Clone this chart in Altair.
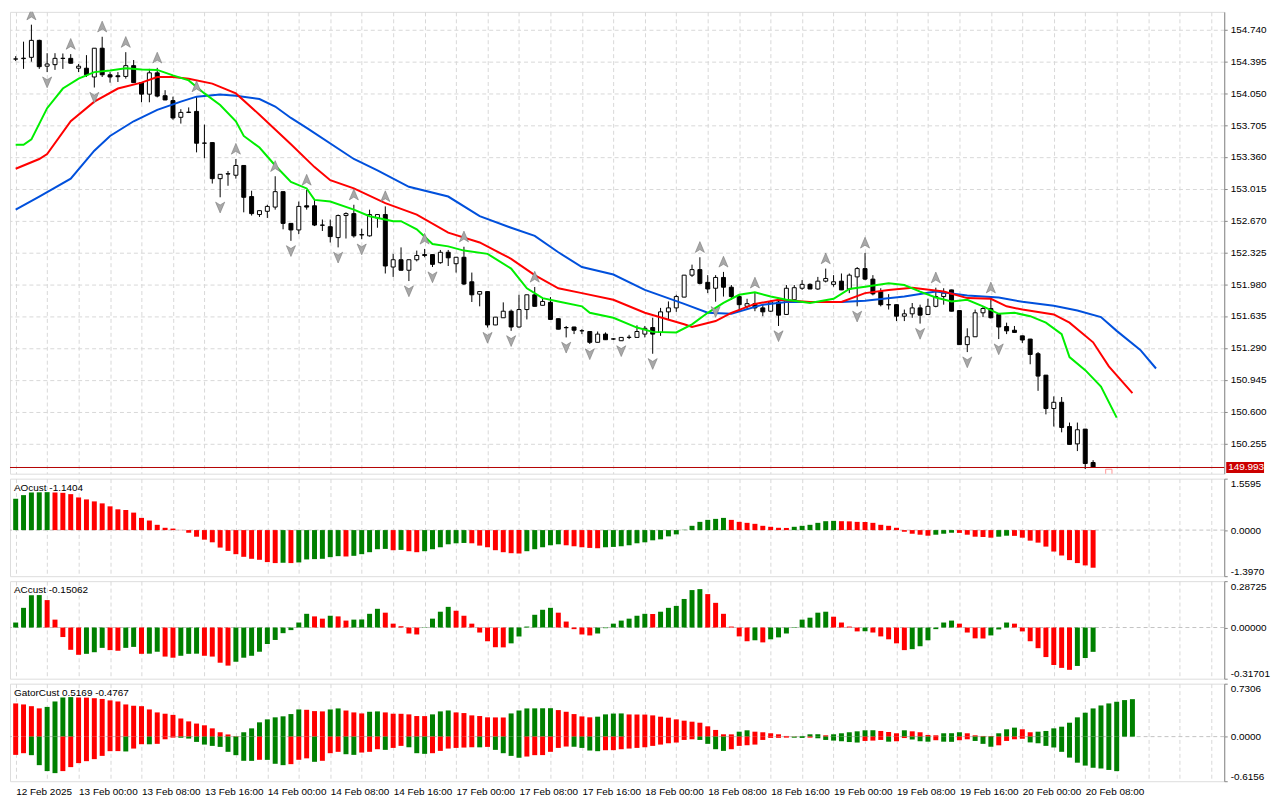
import altair as alt
import pandas as pd

W = 1220
H_MAIN = 464
H_IND = 98

# ---------------- candles (H1, bar 0 = 12 Feb 16:00) ----------------
opens = [154.420,154.425,154.439,154.623,154.343,154.360,154.427,154.428,154.321,154.321,
         154.226,154.538,154.250,154.239,154.232,154.349,154.165,154.040,154.271,154.023,
         153.970,153.789,153.845,153.853,153.508,153.515,153.124,153.174,153.161,153.267,
         152.930,152.735,152.770,152.816,152.983,152.639,152.568,152.830,152.830,152.621,
         152.603,152.485,152.724,152.745,152.517,152.504,152.698,152.735,152.166,152.245,
         152.131,152.245,152.301,152.301,152.213,152.326,152.202,152.272,152.006,151.872,
         151.900,151.538,151.616,151.687,151.516,151.705,151.865,151.751,151.783,151.606,
         151.510,151.516,151.474,151.467,151.350,151.439,151.385,151.367,151.403,151.403,
         151.439,151.510,151.457,151.680,151.723,151.840,152.078,152.138,152.000,151.936,
         152.053,151.947,151.846,151.740,151.769,151.723,151.687,151.787,151.652,151.811,
         151.936,151.978,151.928,152.013,151.978,152.013,151.928,152.059,152.149,152.035,
         151.900,151.758,151.758,151.633,151.659,151.723,151.652,151.740,151.846,151.918,
         151.694,151.325,151.410,151.670,151.716,151.652,151.521,151.481,151.420,151.385,
         151.226,150.994,150.632,150.700,150.437,150.249,150.409,150.047]
highs = [154.452,154.609,154.793,154.630,154.484,154.484,154.481,154.474,154.367,154.463,
         154.540,154.662,154.279,154.279,154.495,154.410,154.167,154.314,154.325,154.083,
         154.013,153.877,153.896,154.013,153.710,153.517,153.173,153.206,153.337,153.269,
         152.993,152.779,152.841,153.150,152.985,152.641,152.876,153.001,152.894,152.681,
         152.681,152.735,152.759,152.841,152.581,152.788,152.737,152.823,152.309,152.379,
         152.247,152.344,152.362,152.303,152.351,152.351,152.274,152.386,152.106,151.902,
         151.902,151.625,151.783,151.705,151.865,151.867,151.950,151.829,151.840,151.608,
         151.527,151.518,151.492,151.469,151.467,151.457,151.396,151.405,151.431,151.534,
         151.527,151.616,151.723,151.793,151.865,152.080,152.192,152.272,152.078,152.078,
         152.113,151.971,151.865,151.822,151.886,151.758,151.801,151.801,151.971,151.971,
         152.024,151.989,152.059,152.149,152.078,152.096,152.096,152.166,152.319,152.078,
         151.936,151.872,151.760,151.705,151.776,151.758,151.822,151.942,151.936,151.920,
         151.696,151.502,151.705,151.740,151.833,151.654,151.563,151.527,151.422,151.387,
         151.244,150.996,150.764,150.757,150.480,150.480,150.411,150.072]
lows = [154.399,154.314,154.392,154.314,154.279,154.303,154.314,154.373,154.279,154.226,
        154.112,154.226,154.165,154.172,154.208,154.163,153.952,153.952,154.005,153.975,
        153.763,153.721,153.835,153.409,153.345,153.071,152.922,153.047,153.124,152.759,
        152.724,152.709,152.698,152.788,152.575,152.450,152.522,152.788,152.610,152.557,
        152.432,152.379,152.475,152.485,152.468,152.496,152.592,152.096,152.059,152.129,
        152.014,152.227,152.272,152.166,152.202,152.177,152.106,151.971,151.787,151.740,
        151.510,151.536,151.614,151.474,151.510,151.598,151.738,151.749,151.596,151.490,
        151.403,151.439,151.439,151.332,151.348,151.376,151.375,151.365,151.385,151.401,
        151.403,151.226,151.420,151.598,151.680,151.838,152.059,151.978,151.883,151.790,
        151.846,151.811,151.687,151.705,151.687,151.633,151.680,151.527,151.650,151.809,
        151.918,151.926,151.918,151.999,151.953,151.916,151.883,151.740,152.024,151.859,
        151.740,151.705,151.580,151.580,151.616,151.553,151.650,151.729,151.758,151.685,
        151.323,151.244,151.408,151.623,151.609,151.385,151.439,151.455,151.343,151.112,
        150.824,150.569,150.437,150.374,150.241,150.171,149.976,149.990]
closes = [154.422,154.430,154.623,154.338,154.367,154.428,154.429,154.375,154.343,154.250,
          154.538,154.250,154.226,154.229,154.349,154.165,154.040,154.271,154.019,153.977,
          153.782,153.842,153.842,153.508,153.510,153.124,153.171,153.178,153.267,152.922,
          152.745,152.777,152.823,152.983,152.639,152.568,152.823,152.816,152.621,152.619,
          152.496,152.724,152.745,152.504,152.514,152.735,152.735,152.177,152.245,152.131,
          152.245,152.291,152.291,152.195,152.326,152.266,152.272,151.982,151.865,151.900,
          151.538,151.623,151.687,151.516,151.705,151.865,151.740,151.793,151.598,151.492,
          151.508,151.481,151.476,151.350,151.439,151.378,151.387,151.403,151.405,151.467,
          151.502,151.439,151.680,151.723,151.846,152.078,152.138,151.989,151.928,152.053,
          151.947,151.846,151.758,151.769,151.723,151.680,151.787,151.644,151.936,151.942,
          151.978,151.928,152.013,152.042,152.006,151.918,152.078,152.149,152.035,151.875,
          151.758,151.756,151.633,151.659,151.723,151.644,151.740,151.846,151.883,151.687,
          151.325,151.410,151.670,151.716,151.616,151.516,151.474,151.457,151.375,151.218,
          150.984,150.632,150.700,150.427,150.243,150.402,150.036,149.993]

# fractal bars
up_fractals = [2, 7, 11, 14, 18, 23, 28, 33, 37, 43, 47, 52, 57, 66, 87, 90, 94, 103, 108, 117, 124]
down_fractals = [4, 10, 26, 35, 41, 44, 50, 53, 60, 63, 70, 73, 77, 81, 89, 97, 107, 115, 121, 125]

# Alligator (shifted forward)
jaw_idx = [0,3,7,10,12,15,18,21,23,26,28,31,33,35,37,43,46,50,55,59,63,66,69,72,76,80,85,88,91,95,
           98,102,105,108,113,117,121,125,128,132,135,138,140,143,145]
jaw_val = [152.788,152.930,153.124,153.427,153.587,153.746,153.870,153.959,154.013,154.037,
           154.023,153.987,153.906,153.782,153.675,153.337,153.214,153.036,152.930,152.717,
           152.592,152.504,152.326,152.166,152.085,151.918,151.766,151.670,151.659,151.758,
           151.787,151.787,151.787,151.801,151.846,151.900,151.857,151.836,151.789,151.747,
           151.694,151.623,151.474,151.268,151.066]
teeth_idx = [0,3,4,7,10,13,16,18,20,22,25,28,31,33,35,38,40,43,47,51,55,59,63,66,69,72,76,80,85,86,
             89,91,94,97,101,105,108,111,114,118,121,124,126,128,132,134,137,139,142]
teeth_val = [153.231,153.337,153.391,153.746,153.959,154.101,154.165,154.226,154.226,154.208,
             154.154,154.048,153.817,153.657,153.497,153.249,153.107,153.018,152.858,152.735,
             152.539,152.432,152.255,152.078,151.936,151.883,151.811,151.670,151.545,151.516,
             151.580,151.670,151.766,151.811,151.787,151.787,151.883,151.918,151.942,151.900,
             151.829,151.822,151.740,151.705,151.652,151.563,151.350,151.090,150.800]
lips_idx = [0,1,2,4,6,8,10,12,14,16,18,20,22,24,26,28,29,31,33,35,37,38,40,43,45,48,49,51,53,55,
            57,60,63,65,67,69,72,73,76,79,81,84,86,88,90,92,94,96,98,101,104,106,108,111,113,115,
            117,119,121,123,125,127,129,131,133,134,136,138,140]
lips_val = [153.491,153.491,153.550,153.888,154.101,154.208,154.279,154.296,154.321,154.307,
            154.303,154.243,154.189,154.048,153.923,153.746,153.587,153.462,153.267,153.089,
            153.018,152.894,152.876,152.788,152.717,152.663,152.663,152.575,152.415,152.390,
            152.344,152.309,152.149,151.936,151.829,151.793,151.740,151.670,151.616,151.510,
            151.463,151.457,151.545,151.670,151.777,151.865,151.893,151.846,151.811,151.776,
            151.822,151.928,151.953,151.989,151.971,151.900,151.836,151.793,151.811,151.740,
            151.659,151.670,151.633,151.563,151.439,151.190,151.048,150.871,150.533]

current_price = [149.993]
current_label = ["149.993"]
marker_idx = [139]
marker_price = [149.94]

price_ticks = [154.740, 154.395, 154.050, 153.705, 153.360, 153.015, 152.670,
               152.325, 151.980, 151.635, 151.290, 150.945, 150.600, 150.255]

# ---------------- AO ----------------
ao_val = [0.95,1.06,1.14,1.145,1.15,1.14,1.13,1.09,0.99,0.93,
          0.87,0.81,0.72,0.63,0.61,0.53,0.37,0.29,0.16,0.07,
          0.045,0.005,-0.08,-0.20,-0.29,-0.37,-0.53,-0.63,-0.73,-0.81,
          -0.87,-0.90,-0.97,-1.00,-0.99,-1.00,-0.98,-0.89,-0.88,-0.87,
          -0.82,-0.79,-0.80,-0.78,-0.73,-0.67,-0.58,-0.57,-0.61,-0.60,
          -0.64,-0.67,-0.64,-0.58,-0.52,-0.43,-0.40,-0.39,-0.40,-0.47,
          -0.52,-0.61,-0.67,-0.70,-0.71,-0.64,-0.58,-0.52,-0.46,-0.43,
          -0.46,-0.49,-0.52,-0.54,-0.55,-0.52,-0.51,-0.49,-0.46,-0.40,
          -0.37,-0.31,-0.28,-0.19,-0.13,0.01,0.13,0.25,0.31,0.34,
          0.37,0.31,0.25,0.22,0.19,0.13,0.10,0.07,0.065,0.10,
          0.13,0.16,0.22,0.27,0.28,0.27,0.265,0.25,0.245,0.22,
          0.16,0.13,0.07,-0.05,-0.11,-0.14,-0.17,-0.14,-0.11,-0.08,
          -0.085,-0.14,-0.20,-0.21,-0.23,-0.20,-0.17,-0.175,-0.23,-0.32,
          -0.38,-0.50,-0.65,-0.77,-0.91,-1.00,-1.07,-1.1404]
ao_col = list("".join("""GGGGG RRRRRRRRRRRRRRRRRRRRRRRRRRRRR G R GGGGGG R GGGGG R G RR GGGGGG
RRRRRRR GGGGG RRRRR GGGGGGGGGGGGGGGG RRRRRRRR GGGGGG RRRRRRRRRRRR GGG RRRRR GG
RRRRRRRRRRR""".split()))

# ---------------- AC ----------------
ac_val = [0.031,0.122,0.20,0.201,0.17,0.049,-0.059,-0.138,-0.169,-0.163,
          -0.153,-0.126,-0.14,-0.144,-0.126,-0.12,-0.163,-0.162,-0.15,-0.18,
          -0.187,-0.175,-0.163,-0.162,-0.175,-0.18,-0.218,-0.236,-0.212,-0.187,
          -0.175,-0.15,-0.102,-0.077,-0.035,-0.016,0.031,0.085,0.069,0.055,
          0.073,0.069,0.043,0.049,0.050,0.085,0.116,0.092,0.024,0.008,
          -0.037,-0.043,-0.002,0.055,0.098,0.128,0.104,0.073,0.024,-0.031,
          -0.085,-0.122,-0.123,-0.098,-0.055,0.006,0.079,0.11,0.122,0.092,
          0.037,-0.01,-0.043,-0.049,-0.037,-0.004,0.024,0.043,0.055,0.073,
          0.085,0.084,0.098,0.122,0.134,0.177,0.232,0.238,0.207,0.153,
          0.085,0.006,-0.055,-0.085,-0.079,-0.092,-0.073,-0.061,-0.037,0.003,
          0.049,0.061,0.092,0.098,0.067,0.031,0.006,-0.024,-0.023,-0.031,
          -0.055,-0.073,-0.098,-0.140,-0.134,-0.116,-0.079,-0.010,0.031,0.043,
          0.024,-0.031,-0.067,-0.068,-0.049,-0.012,0.031,0.024,-0.024,-0.085,
          -0.128,-0.183,-0.232,-0.250,-0.262,-0.238,-0.189,-0.15062]
ac_col = list("".join("""GGGG RRRRR GGG RR GG R GG RR GGG RRRR GGGGGGGGGG RR G RR GGGG RRRRR GGGG
RRRRRRR GGGGGG RRRRR GGGGGGG R GGGGGG RRRRRR G R GGGGGGGG RRRR G RRRRR GGGGGG RRRR GGG
RRRRRRRR GGG""".split()))

# ---------------- Gator ----------------
gator_up = [0.458,0.444,0.42,0.39,0.41,0.485,0.54,0.545,0.54,0.538,
            0.53,0.52,0.50,0.485,0.444,0.426,0.42,0.375,0.334,0.316,
            0.30,0.25,0.21,0.18,0.156,0.114,0.06,0.03,0.005,0.06,
            0.114,0.197,0.238,0.266,0.28,0.311,0.375,0.37,0.352,0.348,
            0.375,0.389,0.36,0.334,0.32,0.343,0.348,0.334,0.316,0.315,
            0.307,0.284,0.283,0.307,0.348,0.361,0.334,0.325,0.293,0.284,
            0.266,0.265,0.264,0.32,0.361,0.389,0.39,0.391,0.392,0.366,
            0.343,0.311,0.279,0.266,0.275,0.307,0.318,0.32,0.306,0.305,
            0.304,0.293,0.275,0.261,0.238,0.22,0.206,0.192,0.142,0.092,
            0.032,0.031,0.068,0.087,0.068,0.06,0.046,0.032,0.009,0.003,
            0.009,0.032,0.033,0.018,0.032,0.046,0.06,0.073,0.087,0.088,
            0.078,0.064,0.046,0.087,0.073,0.06,0.023,0.018,0.046,0.047,
            0.06,0.046,0.018,0.009,0.008,0.046,0.101,0.124,0.101,0.06,
            0.068,0.078,0.114,0.137,0.192,0.266,0.33,0.389,0.43,0.458,
            0.481,0.504,0.5169]
gator_up_col = list("".join("""RRRR GGGG RRRRRRRRRRRRRRRRRRRRR GGGGGGGG RRR GG RRR GG RRRRRR GGG RRRRRRR
GGGGGG RRRRR GGGG RRRRRRRRRRRRRR GG RRRRRR GGG R GGGGGG RRR G RRRR GGG RRRR GGG RR
GGGGGGGGGGGGG""".split()))
gator_dn = [-0.252,-0.229,-0.256,-0.394,-0.476,-0.504,-0.476,-0.421,-0.366,-0.339,
            -0.311,-0.266,-0.201,-0.20,-0.205,-0.165,-0.105,-0.106,-0.10,-0.037,
            -0.014,-0.016,-0.027,-0.073,-0.11,-0.128,-0.142,-0.21,-0.256,-0.334,
            -0.335,-0.32,-0.321,-0.375,-0.394,-0.38,-0.32,-0.30,-0.348,-0.334,
            -0.229,-0.21,-0.243,-0.252,-0.22,-0.21,-0.174,-0.183,-0.156,-0.128,
            -0.147,-0.229,-0.238,-0.229,-0.197,-0.165,-0.156,-0.151,-0.147,-0.148,
            -0.142,-0.183,-0.229,-0.266,-0.293,-0.275,-0.256,-0.255,-0.21,-0.156,
            -0.137,-0.14,-0.156,-0.192,-0.201,-0.188,-0.187,-0.174,-0.165,-0.156,
            -0.147,-0.128,-0.11,-0.092,-0.082,-0.046,-0.037,-0.046,-0.10,-0.174,
            -0.197,-0.174,-0.128,-0.119,-0.11,-0.046,-0.018,-0.017,-0.014,-0.015,
            -0.018,-0.014,-0.023,-0.046,-0.055,-0.064,-0.075,-0.082,-0.06,-0.055,
            -0.046,-0.07,-0.064,-0.02,-0.04,-0.064,-0.07,-0.05,-0.07,-0.072,
            -0.05,-0.037,-0.06,-0.10,-0.14,-0.12,-0.06,-0.037,-0.03,-0.08,
            -0.092,-0.128,-0.15,-0.21,-0.29,-0.36,-0.40,-0.43,-0.44,-0.46,
            -0.4767]
gator_dn_col = list("".join("""RR GGGG RRRRRRRR G RR G RRR GGGGGGGGGG R GGG RRR G RRR GG RRR G RR GGG
RRRRRR G R GGGG RRRRRR GGGG RRRRRRRRRRRR GGGG RRRRRRRR GG R GGGGGG RRR G RR GGG R GG RR
GGG RRRR GGGGGGGGGGGG""".split()))

panel_titles = ["AOcust -1.1404", "ACcust -0.15062", "GatorCust 0.5169 -0.4767"]
time_labels = ["12 Feb 2025", "13 Feb 00:00", "13 Feb 08:00", "13 Feb 16:00", "14 Feb 00:00",
               "14 Feb 08:00", "14 Feb 16:00", "17 Feb 00:00", "17 Feb 08:00", "17 Feb 16:00",
               "18 Feb 00:00", "18 Feb 08:00", "18 Feb 16:00", "19 Feb 00:00", "19 Feb 08:00",
               "19 Feb 16:00", "20 Feb 00:00", "20 Feb 08:00"]

n = len(opens)
assert len(highs) == n and len(lows) == n and len(closes) == n == 138
assert len(ao_val) == len(ao_col) == n and len(ac_val) == len(ac_col) == n
assert len(gator_up) == len(gator_up_col) == 143 and len(gator_dn) == len(gator_dn_col) == 141
assert len(jaw_idx) == len(jaw_val) and len(teeth_idx) == len(teeth_val) and len(lips_idx) == len(lips_val)

# ---------------- frames ----------------
candles = pd.DataFrame({"idx": list(range(n)), "open": opens, "high": highs,
                        "low": lows, "close": closes})
candles["dir"] = ["up" if c >= o else "down" for o, c in zip(opens, closes)]
up_df = pd.DataFrame({"idx": up_fractals, "price": [highs[i] for i in up_fractals]})
dn_df = pd.DataFrame({"idx": down_fractals, "price": [lows[i] for i in down_fractals]})
jaw_df = pd.DataFrame({"idx": jaw_idx, "price": jaw_val})
teeth_df = pd.DataFrame({"idx": teeth_idx, "price": teeth_val})
lips_df = pd.DataFrame({"idx": lips_idx, "price": lips_val})
cur_df = pd.DataFrame({"price": current_price, "label": current_label})
mk_df = pd.DataFrame({"idx": marker_idx, "price": marker_price})

def ind_df(vals, cols):
    return pd.DataFrame({"idx": list(range(len(vals))), "v": vals, "c": cols, "zero": [0] * len(vals)})

ao_df = ind_df(ao_val, ao_col)
ac_df = ind_df(ac_val, ac_col)
gu_df = ind_df(gator_up, gator_up_col)
gd_df = ind_df(gator_dn, gator_dn_col)
zero_df = pd.DataFrame({"v": [0]})

# ---------------- scales / axes ----------------
FONT = "Liberation Sans"
GRID = "#d8d8d8"
x_scale = alt.Scale(domain=[-0.09, 153.04], nice=False, zero=False)
grid_vals = list(range(0, 153, 4))
x_plain = alt.X("idx:Q", scale=x_scale,
                axis=alt.Axis(values=grid_vals, labels=False, ticks=False, domain=False,
                              grid=True, gridDash=[4, 3], gridColor=GRID, title=None))
lab_arr = "[" + ",".join("'" + t + "'" for t in time_labels) + "]"
x_lab = alt.X("idx:Q", scale=x_scale,
              axis=alt.Axis(values=grid_vals, ticks=False, domain=False, grid=True,
                            gridDash=[4, 3], gridColor=GRID, title=None,
                            labelExpr="(datum.value % 8 === 0 && datum.value <= 136) ? "
                                      + lab_arr + "[datum.value / 8] : ''",
                            labelAlign="left", labelPadding=5, labelOverlap=False,
                            labelFontSize=10, labelFont=FONT, labelColor="black"))

y_main = alt.Scale(domain=[149.926, 154.932], nice=False, zero=False)
y_main_axis = alt.Axis(orient="right", values=price_ticks, format=".3f", grid=True,
                       gridDash=[4, 3], gridColor=GRID, title=None, tickSize=3,
                       labelPadding=3)

def Ym(field):
    return alt.Y(field + ":Q", scale=y_main, axis=y_main_axis)

UP_PATH = "M0,-1 L0.8,0.9 L0,0.4 L-0.8,0.9 Z"
DN_PATH = "M0,1 L0.8,-0.9 L0,-0.4 L-0.8,-0.9 Z"

base = alt.Chart(candles)
wicks = base.mark_rule(color="black", strokeWidth=1).encode(x=x_plain, y=Ym("low"), y2="high:Q")
bodies = base.mark_bar(size=4, stroke="black", strokeWidth=1).encode(
    x=x_plain, y=Ym("open"), y2="close:Q",
    fill=alt.Fill("dir:N", scale=alt.Scale(domain=["up", "down"], range=["white", "black"]),
                  legend=None))
jaw = alt.Chart(jaw_df).mark_line(color="#0050dc", strokeWidth=2).encode(x=x_plain, y=Ym("price"))
teeth = alt.Chart(teeth_df).mark_line(color="#ff0000", strokeWidth=2).encode(x=x_plain, y=Ym("price"))
lips = alt.Chart(lips_df).mark_line(color="#00ee00", strokeWidth=2).encode(x=x_plain, y=Ym("price"))
arr_up = alt.Chart(up_df).mark_point(shape=UP_PATH, filled=True, fill="#a8a8a8", stroke="#7a7a7a",
                                     strokeWidth=0.6, size=130, opacity=1, yOffset=-10,
                                     clip=True).encode(x=x_plain, y=Ym("price"))
arr_dn = alt.Chart(dn_df).mark_point(shape=DN_PATH, filled=True, fill="#a8a8a8", stroke="#7a7a7a",
                                     strokeWidth=0.6, size=130, opacity=1, yOffset=10,
                                     clip=True).encode(x=x_plain, y=Ym("price"))
cur_line = alt.Chart(cur_df).mark_rule(color="#b40000", strokeWidth=1).encode(y=Ym("price"))
tag = alt.Chart(cur_df).mark_rule(color="#cc0000", strokeWidth=11).encode(
    x=alt.value(W + 2), x2=alt.value(W + 40), y=Ym("price"))
tag_text = alt.Chart(cur_df).mark_text(align="left", baseline="middle", color="white",
                                       fontSize=10, font=FONT).encode(
    x=alt.value(W + 4), y=Ym("price"), text="label:N")
marker = alt.Chart(mk_df).mark_point(shape="square", filled=False, color="#ff6a6a",
                                     size=40, strokeWidth=1, clip=True).encode(x=x_plain, y=Ym("price"))

main = alt.layer(wicks, bodies, jaw, teeth, lips, arr_up, arr_dn, cur_line, marker,
                 tag, tag_text).properties(width=W, height=H_MAIN)

COLS = alt.Scale(domain=["G", "R"], range=["#008000", "#ff0000"])

def ind_axis(vals, fmt):
    return alt.Axis(orient="right", values=vals, title=None, grid=False, tickSize=3,
                    labelPadding=3, labelFlush=True,
                    labelExpr="replace(format(datum.value, '" + fmt + "'), '\u2212', '-')")

def indicator(frames, domain, fmt, title, xenc):
    ys = alt.Scale(domain=domain, nice=False, zero=False)
    yax = ind_axis([domain[0], 0, domain[1]], fmt)
    zl = alt.Chart(zero_df).mark_rule(color="#c4c4c4", strokeDash=[4, 3]).encode(
        y=alt.Y("v:Q", scale=ys, axis=yax))
    layers = [zl]
    for fr in frames:
        layers.append(alt.Chart(fr).mark_bar(size=5).encode(
            x=xenc, y=alt.Y("v:Q", scale=ys, axis=yax), y2="zero:Q",
            color=alt.Color("c:N", scale=COLS, legend=None)))
    ttl = alt.Chart(pd.DataFrame({"t": [title]})).mark_text(
        align="left", baseline="top", fontSize=10, font=FONT, color="black").encode(
        x=alt.value(4), y=alt.value(4), text="t:N")
    layers.append(ttl)
    return alt.layer(*layers).properties(width=W, height=H_IND)

ao = indicator([ao_df], [-1.397, 1.5595], ".4f", panel_titles[0], x_plain)
ac = indicator([ac_df], [-0.31701, 0.28725], ".5f", panel_titles[1], x_plain)
gator = indicator([gu_df, gd_df], [-0.6156, 0.7306], ".4f", panel_titles[2], x_lab)

chart = alt.vconcat(main, ao, ac, gator, spacing=3).configure_view(
    stroke="black", strokeWidth=1).configure_axis(
    labelFont=FONT, labelFontSize=10, labelColor="black", domainColor="black",
    tickColor="black").configure(font=FONT).properties(
    padding={"left": 1, "top": 1, "right": 2, "bottom": 2}, background="white")

chart.save("out.html", embed_options={"renderer": "svg", "actions": False})
